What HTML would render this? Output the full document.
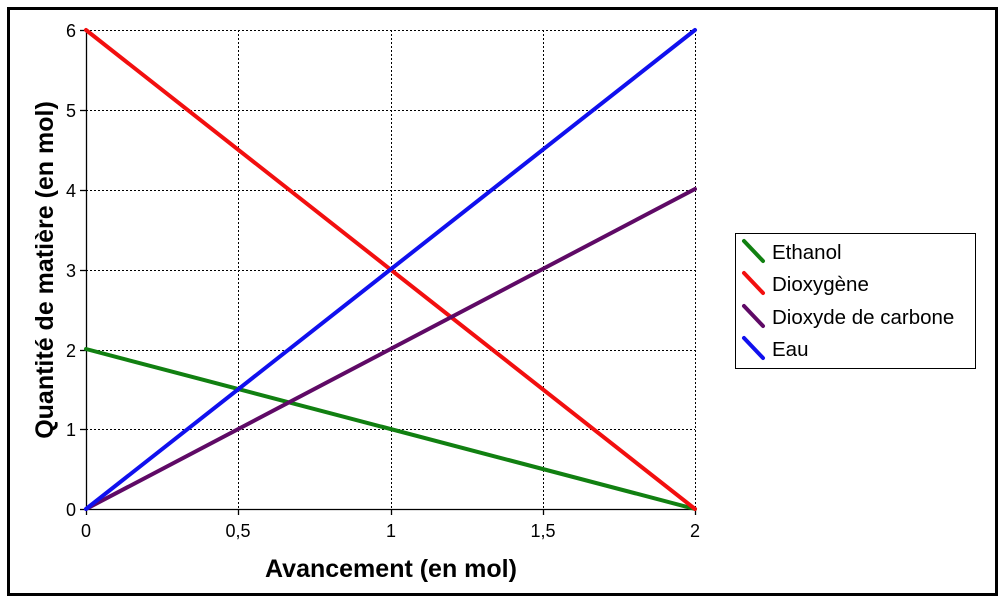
<!DOCTYPE html>
<html><head><meta charset="utf-8"><style>
html,body{margin:0;padding:0;background:#fff;}
svg{display:block;font-family:"Liberation Sans",Arial,sans-serif;}
</style></head><body>
<svg width="1007" height="601" viewBox="0 0 1007 601">
<rect x="8.5" y="8.5" width="988" height="586" fill="#fff" stroke="#000" stroke-width="3"/>
<g stroke="#000" stroke-width="1" stroke-dasharray="2,2">
<line x1="86" y1="30.5" x2="695" y2="30.5"/>
<line x1="86" y1="110.5" x2="695" y2="110.5"/>
<line x1="86" y1="190.5" x2="695" y2="190.5"/>
<line x1="86" y1="270.5" x2="695" y2="270.5"/>
<line x1="86" y1="350.5" x2="695" y2="350.5"/>
<line x1="86" y1="429.5" x2="695" y2="429.5"/>
<line x1="238.5" y1="30" x2="238.5" y2="509"/>
<line x1="391.5" y1="30" x2="391.5" y2="509"/>
<line x1="543.5" y1="30" x2="543.5" y2="509"/>
<line x1="695.5" y1="30" x2="695.5" y2="509"/>
</g>
<g stroke="#000" stroke-width="1.3">
<line x1="86.5" y1="30" x2="86.5" y2="510"/>
<line x1="86" y1="509.5" x2="696" y2="509.5"/>
<line x1="80" y1="30.5" x2="86" y2="30.5"/><line x1="80" y1="110.5" x2="86" y2="110.5"/>
<line x1="80" y1="190.5" x2="86" y2="190.5"/><line x1="80" y1="270.5" x2="86" y2="270.5"/>
<line x1="80" y1="350.5" x2="86" y2="350.5"/><line x1="80" y1="429.5" x2="86" y2="429.5"/>
<line x1="80" y1="509.5" x2="86" y2="509.5"/>
<line x1="86.5" y1="509" x2="86.5" y2="515"/><line x1="238.5" y1="509" x2="238.5" y2="515"/>
<line x1="391.5" y1="509" x2="391.5" y2="515"/><line x1="543.5" y1="509" x2="543.5" y2="515"/>
<line x1="695.5" y1="509" x2="695.5" y2="515"/>
</g>
<g font-size="18" text-anchor="end" fill="#000">
<text x="76" y="37">6</text><text x="76" y="117">5</text><text x="76" y="197">4</text>
<text x="76" y="277">3</text><text x="76" y="357">2</text><text x="76" y="436">1</text><text x="76" y="516">0</text>
</g>
<g font-size="18" text-anchor="middle" fill="#000">
<text x="86" y="537">0</text><text x="238" y="537">0,5</text><text x="391" y="537">1</text>
<text x="543" y="537">1,5</text><text x="695" y="537">2</text>
</g>
<text x="391" y="577" font-size="25" font-weight="bold" text-anchor="middle">Avancement (en mol)</text>
<text transform="translate(53,270) rotate(-90)" font-size="25" font-weight="bold" text-anchor="middle">Quantité de matière (en mol)</text>
<g stroke-width="4" stroke-linecap="round" fill="none">
<line x1="86" y1="349" x2="695" y2="509" stroke="#118011"/>
<line x1="86" y1="30" x2="695" y2="509" stroke="#f20f0f"/>
<line x1="86" y1="509" x2="695" y2="189" stroke="#5f0a66"/>
<line x1="86" y1="509" x2="695" y2="30" stroke="#1010ee"/>
</g>
<rect x="735.5" y="233.5" width="240" height="135" fill="#fff" stroke="#000" stroke-width="1"/>
<g stroke-width="4" stroke-linecap="round">
<line x1="744" y1="241" x2="763" y2="261" stroke="#118011"/>
<line x1="744" y1="273" x2="763" y2="293" stroke="#f20f0f"/>
<line x1="744" y1="306" x2="763" y2="326" stroke="#5f0a66"/>
<line x1="744" y1="338" x2="763" y2="358" stroke="#1010ee"/>
</g>
<g font-size="20.5" fill="#000">
<text x="772" y="259">Ethanol</text><text x="772" y="291">Dioxygène</text>
<text x="772" y="324">Dioxyde de carbone</text><text x="772" y="356">Eau</text>
</g>
</svg>
</body></html>
